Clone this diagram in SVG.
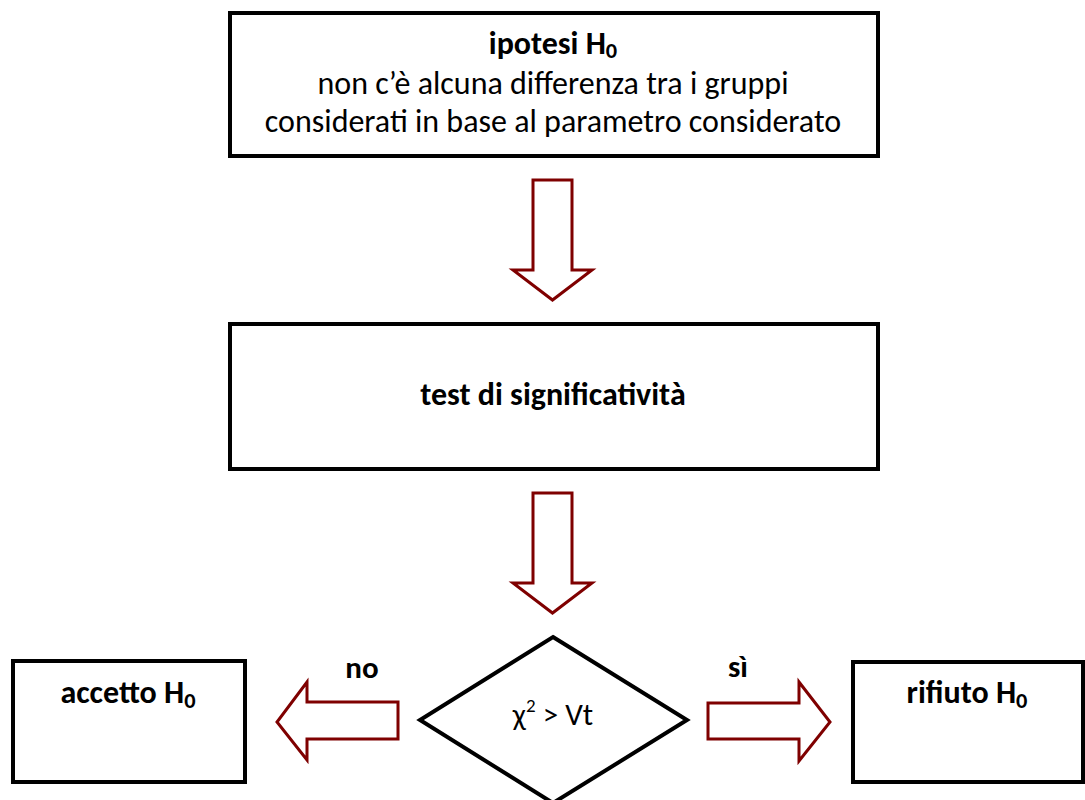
<svg xmlns="http://www.w3.org/2000/svg" width="1085" height="800" viewBox="0 0 1085 800">
  <style>
    .box { fill: #ffffff; stroke: #000000; stroke-width: 4; }
    .arrow { fill: #ffffff; stroke: #7f0000; stroke-width: 3; stroke-linejoin: miter; }
    .t { font-family: Carlito, Calibri, Lato, "Liberation Sans", sans-serif; fill: #000000; text-anchor: middle; }
    .b { font-weight: bold; }
    .sub { font-size: 70%; }
  </style>
  <rect width="1085" height="800" fill="#ffffff"/>

  <!-- hypothesis -->
  <g id="node-ipotesi">
    <rect class="box" x="230" y="13" width="648" height="143"/>
    <text class="t b" x="553" y="54" font-size="32">ipotesi H<tspan class="sub" dy="4">0</tspan></text>
    <text class="t" x="553" y="94" font-size="32">non c’è alcuna differenza tra i gruppi</text>
    <text class="t" x="553" y="132" font-size="32">considerati in base al parametro considerato</text>
  </g>

  <!-- significance test -->
  <g id="node-test">
    <rect class="box" x="230" y="324" width="648" height="145"/>
    <text class="t b" x="553" y="405" font-size="32">test di significatività</text>
  </g>

  <!-- decision -->
  <g id="node-decisione">
    <polygon class="box" points="553,637 687,720 553,803 420,720"/>
    <text class="t" x="553" y="725" font-size="31">χ<tspan font-size="19" dy="-13">2</tspan><tspan dy="13"> &gt; Vt</tspan></text>
  </g>

  <!-- outcomes -->
  <g id="node-accetto">
    <rect class="box" x="13" y="661" width="232" height="121"/>
    <text class="t b" x="128" y="703" font-size="32">accetto H<tspan class="sub" dy="5">0</tspan></text>
  </g>

  <g id="node-rifiuto">
    <rect class="box" x="853" y="662" width="230" height="120"/>
    <text class="t b" x="967" y="703" font-size="32">rifiuto H<tspan class="sub" dy="5">0</tspan></text>
  </g>

  <!-- block arrows between steps -->
  <g id="connectors">
    <polygon class="arrow" points="533,180 572,180 572,270 592,270 552.5,300 513,270 533,270"/>
    <polygon class="arrow" points="533,493 572,493 572,583 592,583 552.5,613 513,583 533,583"/>
    <polygon class="arrow" points="398,702 307,702 307,682 277,722 307,760 307,739 398,739"/>
    <polygon class="arrow" points="708,703 799,703 799,682 830,722 799,761 799,739 708,739"/>
    <text class="t b" x="362" y="678" font-size="31">no</text>
    <text class="t b" x="738" y="677" font-size="31">sì</text>
  </g>
</svg>
